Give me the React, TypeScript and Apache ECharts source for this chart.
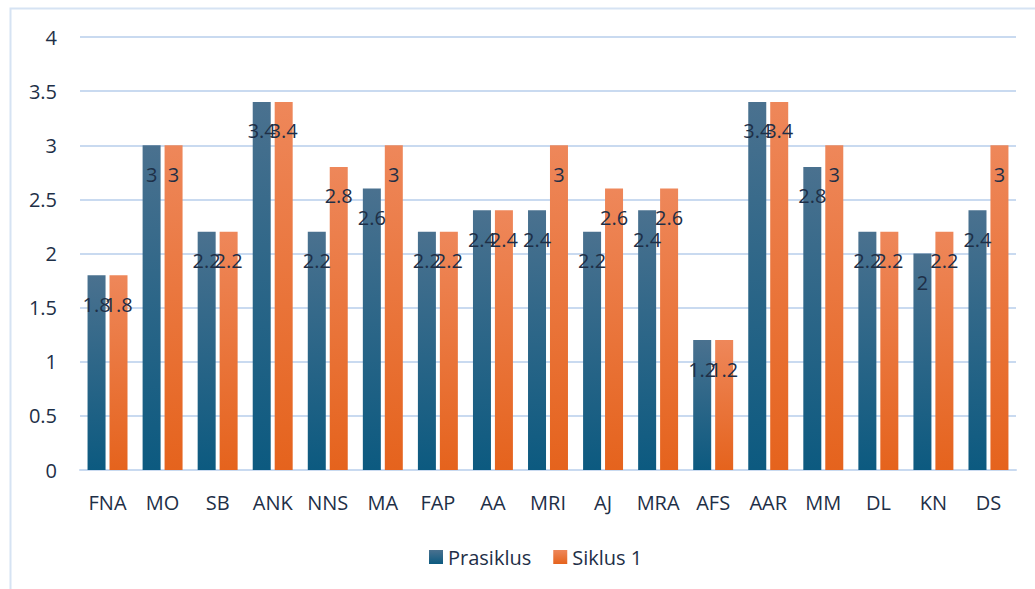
import React, { useEffect, useRef } from "react";
import * as echarts from "echarts";

const categories = ["FNA", "MO", "SB", "ANK", "NNS", "MA", "FAP", "AA", "MRI", "AJ", "MRA", "AFS", "AAR", "MM", "DL", "KN", "DS"];
const prasiklus = [1.8, 3, 2.2, 3.4, 2.2, 2.6, 2.2, 2.4, 2.4, 2.2, 2.4, 1.2, 3.4, 2.8, 2.2, 2, 2.4];
const siklus1 = [1.8, 3, 2.2, 3.4, 2.8, 3, 2.2, 2.4, 3, 2.6, 2.6, 1.2, 3.4, 3, 2.2, 2.2, 3];
const yTicks = [0, 0.5, 1, 1.5, 2, 2.5, 3, 3.5, 4];

const FONT = "'Open Sans', sans-serif";
const TEXT = "#1e2f47";

export default function App() {
  const ref = useRef<HTMLDivElement>(null);
  useEffect(() => {
    document.body.style.margin = "0";
    const chart = echarts.init(ref.current!, null, { renderer: "svg" });
    const label = {
      show: true,
      position: "insideTop",
      distance: 19,
      color: TEXT,
      fontSize: 20,
      fontFamily: FONT,
    };
    chart.setOption({
      animation: false,
      backgroundColor: "#ffffff",
      graphic: [
        {
          type: "rect",
          shape: { x: 10.5, y: 8.5, width: 1100, height: 700 },
          style: { fill: "none", stroke: "#d6e3f3", lineWidth: 2 },
          silent: true,
        },
      ],
      grid: { left: 80, right: 19, top: 37, bottom: 119 },
      legend: {
        top: 542,
        left: 424,
        itemWidth: 14,
        itemHeight: 14,
        itemGap: 22,
        icon: "rect",
        textStyle: { color: TEXT, fontSize: 20, fontFamily: FONT },
        data: ["Prasiklus", "Siklus 1"],
      },
      xAxis: {
        type: "category",
        data: categories,
        axisLine: { show: true, lineStyle: { color: "#c9daf0", width: 2 } },
        axisTick: { show: false },
        axisLabel: { color: TEXT, fontSize: 20, fontFamily: FONT, margin: 22, interval: 0 },
      },
      yAxis: {
        type: "value",
        min: 0,
        max: 4,
        interval: 0.5,
        axisLine: { show: false },
        axisTick: { show: false },
        splitLine: { lineStyle: { color: "#c9daf0", width: 2 } },
        axisLabel: {
          color: TEXT,
          fontSize: 20,
          fontFamily: FONT,
          margin: 23,
          formatter: (v: number) => (yTicks.includes(v) ? String(v) : ""),
        },
      },
      series: [
        {
          name: "Prasiklus",
          type: "bar",
          data: prasiklus,
          barWidth: 18,
          barGap: "22%",
          itemStyle: {
            color: new echarts.graphic.LinearGradient(0, 0, 0, 1, [
              { offset: 0, color: "#4a718f" },
              { offset: 1, color: "#0c5a80" },
            ]),
          },
          label,
        },
        {
          name: "Siklus 1",
          type: "bar",
          data: siklus1,
          barWidth: 18,
          itemStyle: {
            color: new echarts.graphic.LinearGradient(0, 0, 0, 1, [
              { offset: 0, color: "#ee875a" },
              { offset: 1, color: "#e5631d" },
            ]),
          },
          label,
        },
      ],
    });
    return () => chart.dispose();
  }, []);
  return <div ref={ref} style={{ position: "absolute", left: 0, top: 0, width: 1035, height: 589 }} />;
}
